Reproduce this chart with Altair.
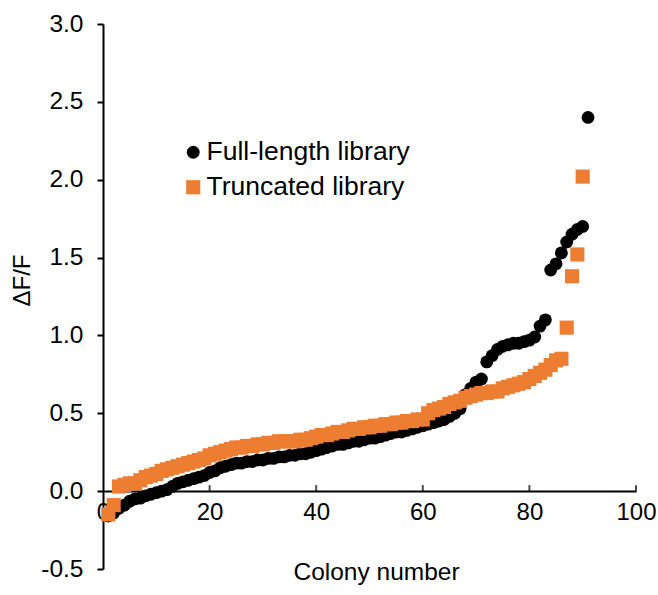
import altair as alt
import pandas as pd

series_names = ["Full-length library", "Truncated library"]
series_colors = ["#000000", "#ED7D31"]

full_length = [
    -0.16, -0.14, -0.11, -0.09, -0.065, -0.05, -0.045, -0.03, -0.02, -0.01,
    0.00, 0.01, 0.03, 0.05, 0.06, 0.07, 0.08, 0.09, 0.10, 0.12,
    0.13, 0.15, 0.16, 0.17, 0.18, 0.18, 0.19, 0.19, 0.20, 0.20,
    0.21, 0.21, 0.22, 0.22, 0.23, 0.23, 0.24, 0.24, 0.25, 0.26,
    0.27, 0.28, 0.29, 0.30, 0.30, 0.31, 0.32, 0.32, 0.33, 0.34,
    0.34, 0.35, 0.36, 0.37, 0.38, 0.38, 0.39, 0.40, 0.41, 0.42,
    0.43, 0.44, 0.45, 0.46, 0.48, 0.50, 0.53, 0.62, 0.66, 0.70,
    0.72, 0.83, 0.87, 0.91, 0.93, 0.94, 0.95, 0.95, 0.96, 0.97,
    0.99, 1.06, 1.10, 1.42, 1.46, 1.53, 1.60, 1.65, 1.68, 1.70,
    2.40,
]

truncated = [
    -0.15, -0.09, 0.03, 0.04, 0.05, 0.05, 0.07, 0.09, 0.10, 0.11,
    0.13, 0.14, 0.15, 0.16, 0.17, 0.18, 0.19, 0.20, 0.21, 0.23,
    0.24, 0.25, 0.26, 0.27, 0.28, 0.28, 0.29, 0.29, 0.30, 0.30,
    0.31, 0.31, 0.32, 0.32, 0.32, 0.32, 0.33, 0.33, 0.34, 0.35,
    0.36, 0.36, 0.37, 0.38, 0.38, 0.39, 0.40, 0.40, 0.41, 0.41,
    0.42, 0.42, 0.43, 0.43, 0.44, 0.44, 0.45, 0.45, 0.46, 0.46,
    0.50, 0.52, 0.53, 0.54, 0.56, 0.57, 0.58, 0.60, 0.61, 0.62,
    0.63, 0.63, 0.64, 0.64, 0.66, 0.67, 0.68, 0.69, 0.70, 0.72,
    0.74, 0.76, 0.78, 0.81, 0.84, 0.85, 1.05, 1.38, 1.52, 2.02,
]

x_ticks = [0, 20, 40, 60, 80, 100]
y_ticks = [-0.5, 0.0, 0.5, 1.0, 1.5, 2.0, 2.5, 3.0]

rows = []
for name, values in zip(series_names, [full_length, truncated]):
    for i, v in enumerate(values):
        rows.append({"colony": i + 1, "dff": v, "series": name})
df = pd.DataFrame(rows)

tick_df = pd.DataFrame({"colony": x_ticks[1:], "dff": [0.0] * (len(x_ticks) - 1)})

FONT = "Liberation Sans"

x_enc = alt.X(
    "colony:Q",
    scale=alt.Scale(domain=[0, 100], nice=False, zero=False),
    axis=alt.Axis(
        values=x_ticks, title="Colony number", offset=-78, ticks=False,
        grid=False, domainColor="black", domainWidth=2, labelPadding=9,
        labelFontSize=24, titleFontSize=24.5, titleFontWeight="normal",
        titlePadding=36, titleX=273, labelColor="black", titleColor="black",
        labelFont=FONT, titleFont=FONT, labelFlush=False,
    ),
)
y_enc = alt.Y(
    "dff:Q",
    scale=alt.Scale(domain=[-0.5, 3.0], nice=False, zero=False),
    axis=alt.Axis(
        values=y_ticks, format=".1f", labelExpr="replace(datum.label, '\u2212', '-')",
        title="\u0394F/F", grid=False, domainColor="black", domainWidth=2,
        tickColor="black", tickWidth=2, tickSize=6, labelPadding=14,
        labelFontSize=24.5, titleFontSize=24, titleFontWeight="normal",
        labelColor="black", titleColor="black", labelFont=FONT, titleFont=FONT,
        titleX=-81, titleY=256, titleAlign="center", titleBaseline="middle",
        titleAngle=270, labelFlush=False,
    ),
)

legend_opts = dict(
    title=None, orient="none", legendX=77, legendY=115,
    labelFontSize=26.5, labelFont=FONT, labelColor="black", labelLimit=0,
    symbolSize=110, symbolStrokeWidth=0, rowPadding=8, labelOffset=0,
    padding=0,
)

points = alt.Chart(df).mark_point(filled=True, opacity=1, strokeWidth=0).encode(
    x=x_enc,
    y=y_enc,
    color=alt.Color(
        "series:N",
        scale=alt.Scale(domain=series_names, range=series_colors),
        legend=alt.Legend(**legend_opts),
    ),
    shape=alt.Shape(
        "series:N",
        scale=alt.Scale(domain=series_names, range=["circle", "square"]),
        legend=alt.Legend(**legend_opts),
    ),
    size=alt.Size(
        "series:N",
        scale=alt.Scale(domain=series_names, range=[165, 200]),
        legend=None,
    ),
)

ticks = alt.Chart(tick_df).mark_tick(
    orient="vertical", size=6, thickness=2, color="black", yOffset=-3
).encode(x=x_enc, y=y_enc)

chart = alt.layer(points, ticks).properties(
    width=533, height=545,
    padding={"left": 103, "top": 24, "right": 22, "bottom": 26},
    autosize="none",
    background="white",
).configure_view(stroke=None)

chart.save("out.html", embed_options={"renderer": "svg", "actions": False})
